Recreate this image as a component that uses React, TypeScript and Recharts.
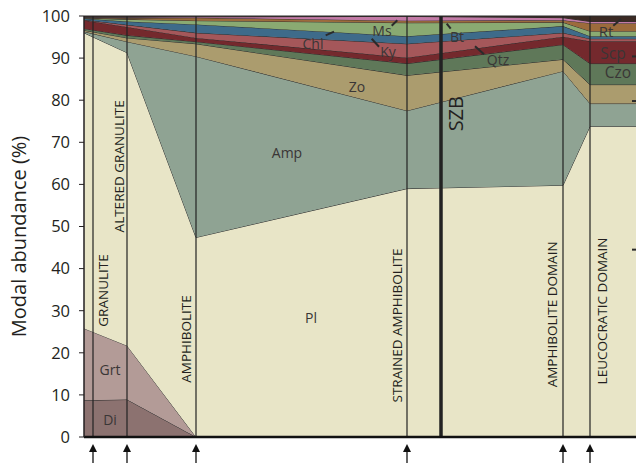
import React from "react";
import { AreaChart, Area, XAxis, YAxis, ReferenceLine, ReferenceDot } from "recharts";

// distance along the profile (chart units)
const dist = [0, 43, 112, 323, 479, 506, 552];

// modal abundance (%) of each phase at each profile point, stacked from the bottom
const di = [8.7, 8.9, 0, 0, 0, 0, 0];
const grt = [17.1, 12.8, 0, 0, 0, 0, 0];
const pl = [70.2, 69.6, 47.4, 59.0, 59.8, 73.8, 73.8];
const amp = [0.3, 2.6, 43.0, 18.5, 27.1, 5.4, 5.4];
const zo = [0.3, 0.9, 3.0, 8.4, 2.8, 4.5, 4.5];
const czo = [0.4, 0.6, 0.5, 2.8, 3.5, 5.0, 5.0];
const scp = [2.0, 2.0, 0.9, 1.4, 1.9, 5.3, 5.3];
const ky = [0.1, 0.5, 1.2, 3.3, 0.9, 0.6, 0.6];
const chl = [0.3, 0.8, 2.0, 1.8, 1.6, 0.6, 0.6];
const bt = [0.1, 0.5, 0.9, 3.2, 0.9, 1.2, 1.2];
const rt = [0.1, 0.3, 0.7, 0.5, 0.5, 1.9, 1.9];
const ms = [0.1, 0.2, 0.2, 1.0, 0.6, 0.4, 0.4];
const opq = [0.3, 0.3, 0.2, 0.1, 0.4, 1.3, 1.3];

// sample locations (arrows) and the shear zone boundary
const samplePos = [9, 43, 112, 323, 479, 506];
const szbPos = 357;
const yTicks = [0, 10, 20, 30, 40, 50, 60, 70, 80, 90, 100];

const layers = [
  { key: "Di", values: di, color: "#8c7270" },
  { key: "Grt", values: grt, color: "#b39b97" },
  { key: "Pl", values: pl, color: "#e8e5c7" },
  { key: "Amp", values: amp, color: "#8fa393" },
  { key: "Zo", values: zo, color: "#ab9c6e" },
  { key: "Czo", values: czo, color: "#5f7859" },
  { key: "Scp", values: scp, color: "#74292d" },
  { key: "Ky", values: ky, color: "#a5575a" },
  { key: "Chl", values: chl, color: "#3e6b8a" },
  { key: "Bt", values: bt, color: "#8aaa72" },
  { key: "Rt", values: rt, color: "#9c6b3c" },
  { key: "Ms", values: ms, color: "#c27aa6" },
  { key: "Opq", values: opq, color: "#3b2a24" },
];

const data = dist.map((d, i) => {
  const row: any = { dist: d };
  layers.forEach((l) => (row[l.key] = l.values[i]));
  return row;
});

// rotated sample names: [text, x, bottom of text (%), font size]
const sampleLabels: [string, number, number, number][] = [
  ["GRANULITE", 24, 26.2, 13.5],
  ["ALTERED GRANULITE", 40, 48.6, 13.5],
  ["AMPHIBOLITE", 106.5, 12.9, 13.5],
  ["STRAINED AMPHIBOLITE", 317.5, 8.2, 13.5],
  ["AMPHIBOLITE DOMAIN", 473, 11.8, 13.5],
  ["LEUCOCRATIC DOMAIN", 523, 12.5, 13.5],
  ["SZB", 379, 72.6, 20],
];

// phase names: [text, x, y (%), font size]
const phaseLabels: [string, number, number, number][] = [
  ["Di", 26, 4.2, 14],
  ["Grt", 26, 16.0, 14],
  ["Pl", 227, 28.4, 14],
  ["Amp", 203, 67.6, 14],
  ["Zo", 273, 83.2, 14],
  ["Chl", 229, 93.5, 14],
  ["Ms", 298, 96.6, 14],
  ["Ky", 304, 91.6, 14],
  ["Bt", 373, 95.1, 14],
  ["Qtz", 414, 89.7, 14],
  ["Rt", 522, 96.4, 15],
  ["Scp", 529, 91.3, 15.5],
  ["Czo", 534, 86.6, 15.5],
];

// leader lines
const leaders: [number, number, number, number][] = [
  [241.7, 95.4, 250, 96.3],
  [307.7, 97.7, 313.3, 99.0],
  [287.7, 94.6, 295, 92.7],
  [362.7, 98.2, 366.7, 97.0],
  [391, 92.8, 400, 90.9],
  [529.3, 97.7, 537, 99.3],
  [548, 90.4, 552, 90.4],
  [548, 79.8, 552, 79.8],
  [548, 44.5, 552, 44.5],
];

const Arrow = (props: any) => {
  const { x, y } = props;
  return (
    <g>
      <path d={`M${x},${y + 7} l-4,8 l8,0 z`} fill="#111" />
      <line x1={x} x2={x} y1={y + 13} y2={y + 27} stroke="#111" strokeWidth={1.3} />
    </g>
  );
};

const App = () => (
  <div
    style={{
      position: "absolute",
      left: 0,
      top: 0,
      width: 636,
      height: 463,
      overflow: "hidden",
      fontFamily: '"Open Sans", sans-serif',
      background: "#fff",
    }}
  >
    <AreaChart width={636} height={463} data={data} margin={{ top: 16, right: 0, left: 0, bottom: 0 }}>
      {layers.map((l) => (
        <Area
          key={l.key}
          type="linear"
          dataKey={l.key}
          stackId="1"
          stroke="#2a2a2a"
          strokeWidth={1}
          fill={l.color}
          fillOpacity={1}
          dot={false}
          activeDot={false}
          isAnimationActive={false}
        />
      ))}
      {samplePos.map((p) => (
        <ReferenceLine key={p} x={p} stroke="#222" strokeWidth={1.2} />
      ))}
      <ReferenceLine x={szbPos} stroke="#222" strokeWidth={3.5} />
      {leaders.map((s, i) => (
        <ReferenceLine
          key={"ld" + i}
          segment={[
            { x: s[0], y: s[1] },
            { x: s[2], y: s[3] },
          ]}
          stroke="#2b2b2b"
          strokeWidth={2}
        />
      ))}
      {sampleLabels.map(([t, x, y, fs]) => (
        <ReferenceDot
          key={t}
          x={x}
          y={y}
          r={0}
          shape={(p: any) => (
            <text
              transform={`translate(${p.cx},${p.cy}) rotate(-90)`}
              fontSize={fs}
              fill="#231f20"
              textAnchor="start"
            >
              {t}
            </text>
          )}
        />
      ))}
      {phaseLabels.map(([t, x, y, fs]) => (
        <ReferenceDot
          key={"ph" + t}
          x={x}
          y={y}
          r={0}
          shape={(p: any) => (
            <text x={p.cx} y={p.cy} fontSize={fs} fill="#3a3636" textAnchor="middle" dominantBaseline="central">
              {t}
            </text>
          )}
        />
      ))}
      <XAxis
        type="number"
        dataKey="dist"
        domain={[0, 552]}
        ticks={samplePos}
        tick={<Arrow />}
        tickLine={false}
        tickSize={0}
        tickMargin={0}
        height={26}
        axisLine={{ stroke: "#111", strokeWidth: 2.5 }}
        interval={0}
      />
      <YAxis
        type="number"
        domain={[0, 100]}
        ticks={yTicks}
        width={84}
        tickSize={5}
        tickMargin={9}
        tick={{ fill: "#231f20", fontSize: 16.5 }}
        tickLine={{ stroke: "#231f20" }}
        axisLine={{ stroke: "#231f20", strokeWidth: 1.5 }}
        label={(props: any) => {
          const vb = props.viewBox || { x: 0, y: 16, height: 421 };
          return (
            <text
              transform={`translate(${vb.x + 26},${vb.y + vb.height / 2 + 10}) rotate(-90)`}
              fontSize={20}
              fill="#231f20"
              textAnchor="middle"
            >
              Modal abundance (%)
            </text>
          );
        }}
      />
    </AreaChart>
  </div>
);

export default App;
